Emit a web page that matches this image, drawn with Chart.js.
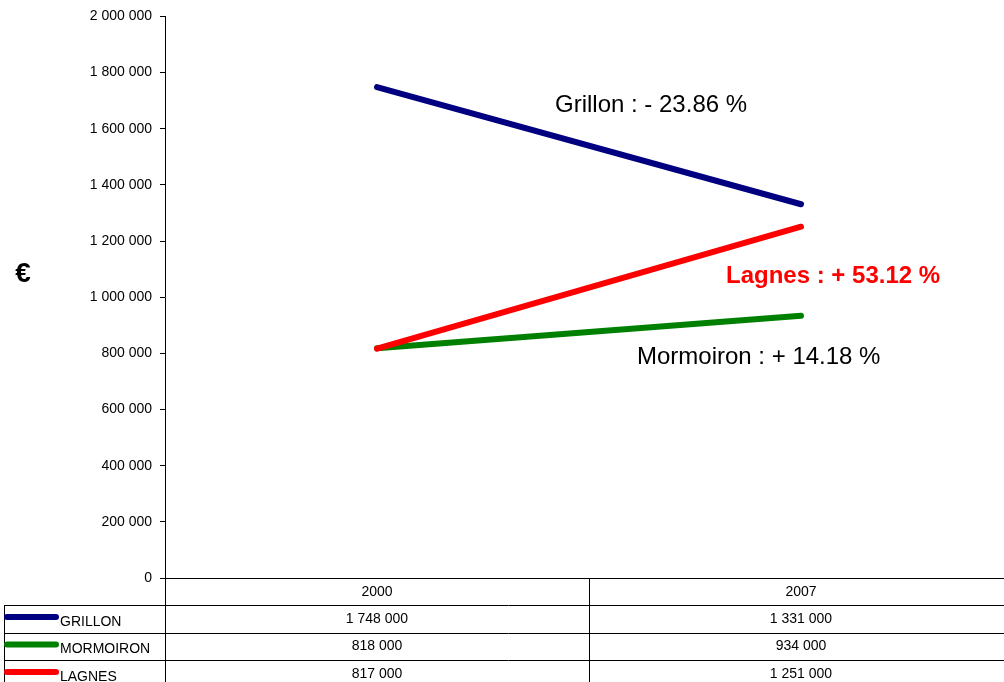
<!DOCTYPE html>
<html><head><meta charset="utf-8">
<script src="https://cdn.jsdelivr.net/npm/chart.js@4/dist/chart.umd.min.js"></script>
<style>html,body{margin:0;padding:0;overflow:hidden;background:#fff;width:1004px;height:682px}canvas{position:absolute;left:0;top:0}</style>
</head><body><canvas id="c" width="1020" height="682"></canvas>
<script>
// ---- data ----
const years = ['2000', '2007'];
const seriesNames = ['Grillon', 'Mormoiron', 'Lagnes'];
const tableNames = ['GRILLON', 'MORMOIRON', 'LAGNES'];
const grillon = [1748000, 1331000];
const mormoiron = [818000, 934000];
const lagnes = [817000, 1251000];
const yTicks = [0, 200000, 400000, 600000, 800000, 1000000, 1200000, 1400000, 1600000, 1800000, 2000000];
const yUnit = '€';

// ---- styles / layout ----
const colors = ['#000080', '#008000', '#ff0000'];
const noteStyle = [
  { x: 555, y: 105, bold: false, color: '#000000' },
  { x: 637, y: 357, bold: false, color: '#000000' },
  { x: 726, y: 276, bold: true, color: '#ff0000' }
];
const FONT = '"Liberation Sans", Arial, sans-serif';
const fmt = v => String(v).replace(/\B(?=(\d{3})+(?!\d))/g, ' ');
const allSeries = [grillon, mormoiron, lagnes];
const pct = s => {
  const p = (s[1] - s[0]) / s[0] * 100;
  return (p < 0 ? '- ' : '+ ') + Math.abs(p).toFixed(2) + ' %';
};

const extras = {
  id: 'extras',
  afterDraw(chart) {
    const ctx = chart.ctx;
    const x = chart.scales.x;
    const ca = chart.chartArea;
    const L = ca.left, R = ca.right, B = ca.bottom;
    const mid = (x.getPixelForValue(0) + x.getPixelForValue(1)) / 2;
    const headerBottom = B + 27;
    const rowH = 27.5;
    const tableLeft = 4;
    ctx.save();
    ctx.strokeStyle = '#000';
    ctx.lineWidth = 1;
    ctx.beginPath();
    ctx.moveTo(L, B + 0.5); ctx.lineTo(R, B + 0.5);
    [L, mid, R].forEach(px => { const p = Math.round(px) + 0.5; ctx.moveTo(p, B); ctx.lineTo(p, 700); });
    for (let i = 0; i < 3; i++) {
      const y = Math.round(headerBottom + i * rowH) + 0.5;
      ctx.moveTo(tableLeft, y); ctx.lineTo(R, y);
    }
    ctx.moveTo(tableLeft + 0.5, headerBottom); ctx.lineTo(tableLeft + 0.5, 700);
    ctx.stroke();

    ctx.fillStyle = '#000';
    ctx.textBaseline = 'middle';
    ctx.textAlign = 'center';
    ctx.font = '14px ' + FONT;
    years.forEach((yr, i) => ctx.fillText(yr, x.getPixelForValue(i), B + 14));
    allSeries.forEach((s, r) => {
      const top = headerBottom + r * rowH;
      ctx.textAlign = 'center';
      s.forEach((v, i) => ctx.fillText(fmt(v), x.getPixelForValue(i), top + 14));
      ctx.strokeStyle = colors[r];
      ctx.lineWidth = 6;
      ctx.lineCap = 'round';
      ctx.beginPath();
      ctx.moveTo(7, top + 12); ctx.lineTo(56, top + 12);
      ctx.stroke();
      ctx.textAlign = 'left';
      ctx.fillText(tableNames[r], 60, top + 17);
    });

    seriesNames.forEach((n, i) => {
      const st = noteStyle[i];
      ctx.font = (st.bold ? 'bold ' : '') + '24px ' + FONT;
      ctx.fillStyle = st.color;
      ctx.textAlign = 'left';
      ctx.fillText(n + ' : ' + pct(allSeries[i]), st.x, st.y);
    });

    ctx.font = 'bold 28px ' + FONT;
    ctx.fillStyle = '#000';
    ctx.textAlign = 'center';
    ctx.fillText(yUnit, 23, 274);
    ctx.restore();
  }
};

new Chart(document.getElementById('c'), {
  type: 'line',
  data: {
    labels: years,
    datasets: [
      { label: seriesNames[0], data: grillon, borderColor: colors[0], order: 2 },
      { label: seriesNames[1], data: mormoiron, borderColor: colors[1], order: 1 },
      { label: seriesNames[2], data: lagnes, borderColor: colors[2], order: 0 }
    ]
  },
  options: {
    responsive: false,
    devicePixelRatio: 1,
    animation: false,
    layout: { padding: { left: 0, right: 7, top: 16, bottom: 104 } },
    elements: {
      line: { borderWidth: 6, borderCapStyle: 'round', borderJoinStyle: 'round', tension: 0, fill: false },
      point: { radius: 0, hoverRadius: 0 }
    },
    plugins: { legend: { display: false }, tooltip: { enabled: false } },
    scales: {
      x: { type: 'category', offset: true, display: false },
      y: {
        min: 0, max: 2000000,
        afterBuildTicks: s => { s.ticks = yTicks.map(v => ({ value: v })); },
        afterFit: s => { s.width = 165; },
        border: { display: true, color: '#000', width: 1 },
        grid: { drawOnChartArea: false, drawTicks: true, tickLength: 5, color: '#000' },
        ticks: { color: '#000', padding: 8, font: { family: FONT, size: 14 }, callback: v => fmt(v) }
      }
    }
  },
  plugins: [extras]
});
</script>
</body></html>
